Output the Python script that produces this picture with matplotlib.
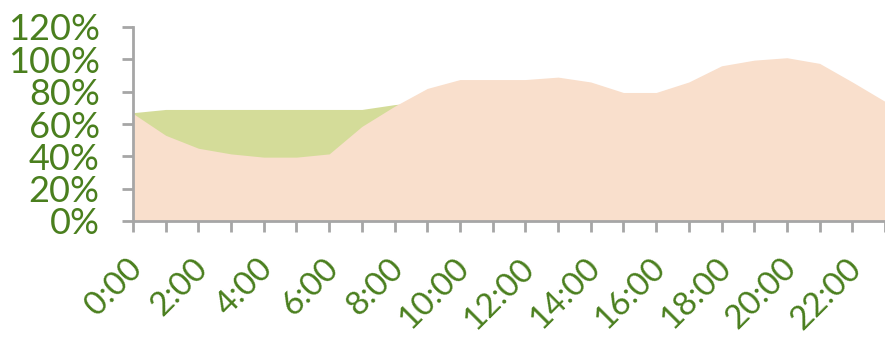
import matplotlib
matplotlib.use("Agg")
import matplotlib.pyplot as plt
import matplotlib.transforms as mtransforms
from matplotlib.ticker import PercentFormatter

# hourly load, 0:00 .. 23:00 (fraction of baseline)
hours = list(range(24))
hour_labels = ["%d:00" % h if h % 2 == 0 else "" for h in hours]
series_plan = [0.67, 0.69, 0.69, 0.69, 0.69, 0.69, 0.69, 0.69, 0.72, 0.74,
               0.76, 0.78, 0.79, 0.80, 0.78, 0.76, 0.75, 0.78, 0.82, 0.85,
               0.86, 0.84, 0.78, 0.68]
series_actual = [0.665, 0.53, 0.45, 0.415, 0.395, 0.395, 0.415, 0.585, 0.71, 0.82,
                 0.875, 0.875, 0.875, 0.89, 0.86, 0.795, 0.795, 0.86, 0.96, 0.995,
                 1.01, 0.975, 0.86, 0.74]

green_txt = "#4A7F1E"
axis_grey = "#A6A6A6"

plt.rcParams["font.family"] = ["Lato", "DejaVu Sans"]

fig = plt.figure(figsize=(8.85, 3.41), dpi=100)
ax = fig.add_axes([133 / 885, 1 - 221 / 341, 1 - 133 / 885, (221 - 27) / 341])

ax.fill_between(hours, series_plan, color="#D4DC99", linewidth=0)
ax.fill_between(hours, series_actual, color="#F9DFCC", linewidth=0)

ax.set_xlim(0, 23)
ax.set_ylim(0, 1.2)
ax.set_yticks([0, 0.2, 0.4, 0.6, 0.8, 1.0, 1.2])
ax.yaxis.set_major_formatter(PercentFormatter(1.0, decimals=0))
ax.set_xticks(hours)
ax.set_xticklabels(hour_labels, rotation=45, ha="right", va="top",
                   rotation_mode="anchor")

for s in ["top", "right"]:
    ax.spines[s].set_visible(False)
for s in ["left", "bottom"]:
    ax.spines[s].set_color(axis_grey)
    ax.spines[s].set_linewidth(2)
    ax.spines[s].set_zorder(3)

ax.tick_params(axis="both", colors=axis_grey, width=2, length=8,
               labelcolor=green_txt, labelsize=26)
ax.tick_params(axis="y", pad=16)
ax.tick_params(axis="x", pad=15, labelsize=24)

# nudge the slanted hour labels a little to the left
shift = mtransforms.ScaledTranslation(-6 / 100, 0, fig.dpi_scale_trans)
for lbl in ax.get_xticklabels():
    lbl.set_transform(lbl.get_transform() + shift)

fig.savefig("out.png", dpi=100)
